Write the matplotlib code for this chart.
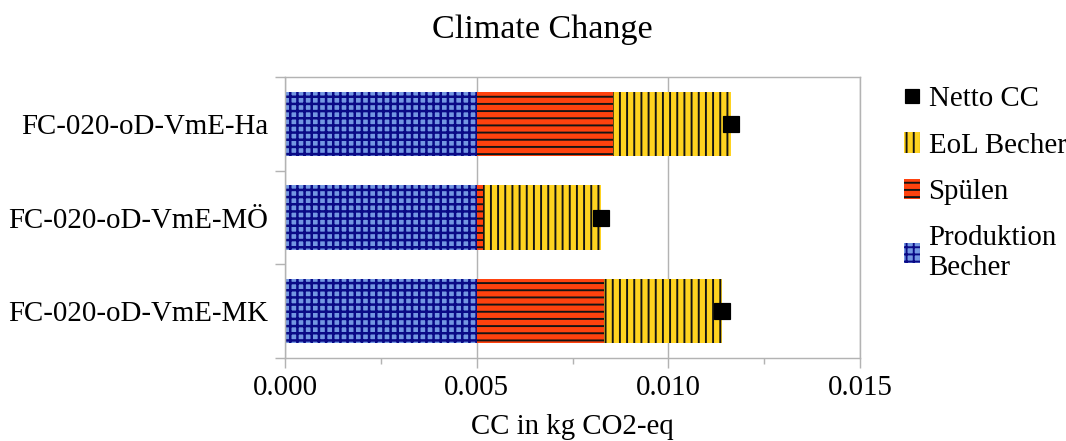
import matplotlib
matplotlib.use('Agg')
import matplotlib.pyplot as plt
from matplotlib.patches import Patch
from matplotlib.lines import Line2D
import numpy as np

# data
labels = ['FC-020-oD-VmE-Ha', 'FC-020-oD-VmE-MÖ', 'FC-020-oD-VmE-MK']
produktion = [0.00500, 0.00500, 0.00500]
spuelen = [0.00356, 0.00017, 0.00332]
eol = [0.00308, 0.00308, 0.00308]
netto = [0.01164, 0.00825, 0.01140]

DPI = 86
FS = 24.2
plt.rcParams['font.family'] = 'Liberation Serif'

fig = plt.figure(figsize=(1066 / DPI, 441 / DPI), dpi=DPI)
ax = fig.add_axes([285 / 1066, 1 - 358 / 441, 575 / 1066, 281 / 441])

y = np.arange(len(labels))
h = 0.69
c_blue, c_blue_h = '#7397e2', '#0a0a86'
c_red, c_red_h = '#ff420e', '#141414'
c_yel, c_yel_h = '#ffd320', '#141414'

left = np.zeros(len(labels))
plt.rcParams['hatch.linewidth'] = 2.1
ax.barh(y, produktion, height=h, left=left, color=c_blue, edgecolor=c_blue_h,
        hatch='++', linewidth=0, zorder=2)
blue_patch = Patch(facecolor=c_blue, edgecolor=c_blue_h, hatch='++', linewidth=0)
plt.rcParams['hatch.linewidth'] = 1.6
left += produktion
ax.barh(y, spuelen, height=h, left=left, color=c_red, edgecolor=c_red_h,
        hatch='--', linewidth=0, zorder=2)
left += spuelen
ax.barh(y, eol, height=h, left=left, color=c_yel, edgecolor=c_yel_h,
        hatch='||', linewidth=0, zorder=2)
ax.plot(netto, y, 's', color='black', markersize=13, zorder=3)

ax.set_xlim(0, 0.015)
ax.set_ylim(2.5, -0.5)
ax.set_xticks([0, 0.005, 0.010, 0.015])
ax.set_xticklabels(['0.000', '0.005', '0.010', '0.015'])
ax.set_xticks([0.0025, 0.0075, 0.0125], minor=True)
ax.set_yticks(y)
ax.set_yticklabels(labels)
ax.set_yticks([-0.5, 0.5, 1.5, 2.5], minor=True)

gray = '#b3b3b3'
for s in ax.spines.values():
    s.set_color(gray)
    s.set_linewidth(1.2)
ax.grid(axis='x', which='major', color=gray, linewidth=1.2, zorder=0)
ax.tick_params(axis='x', which='major', length=8, width=1.2, color=gray,
               labelsize=FS, pad=6)
ax.tick_params(axis='x', which='minor', length=5, width=1.2, color=gray)
ax.tick_params(axis='y', which='major', length=0, labelsize=FS, pad=14)
ax.tick_params(axis='y', which='minor', length=8, width=1.2, color=gray)

ax.set_xlabel('CC in kg CO2-eq', fontsize=FS, labelpad=11)
fig.text(542 / 1066, 1 - 30 / 441, 'Climate Change', fontsize=28.6,
         ha='center', va='center')

handles = [
    Line2D([], [], marker='s', color='black', linestyle='none', markersize=11),
    Patch(facecolor=c_yel, edgecolor=c_yel_h, hatch='||', linewidth=0),
    Patch(facecolor=c_red, edgecolor=c_red_h, hatch='--', linewidth=0),
    blue_patch,
]
names = ['Netto CC', 'EoL Becher', 'Spülen', 'Produktion\nBecher']
fig.legend(handles, names, loc='upper left',
           bbox_to_anchor=(904 / 1066, 1 - 86 / 441), frameon=False,
           fontsize=FS, handlelength=0.55, handleheight=0.7,
           handletextpad=0.3, labelspacing=0.7, borderpad=0,
           borderaxespad=0)

fig.savefig('out.png', dpi=DPI)
